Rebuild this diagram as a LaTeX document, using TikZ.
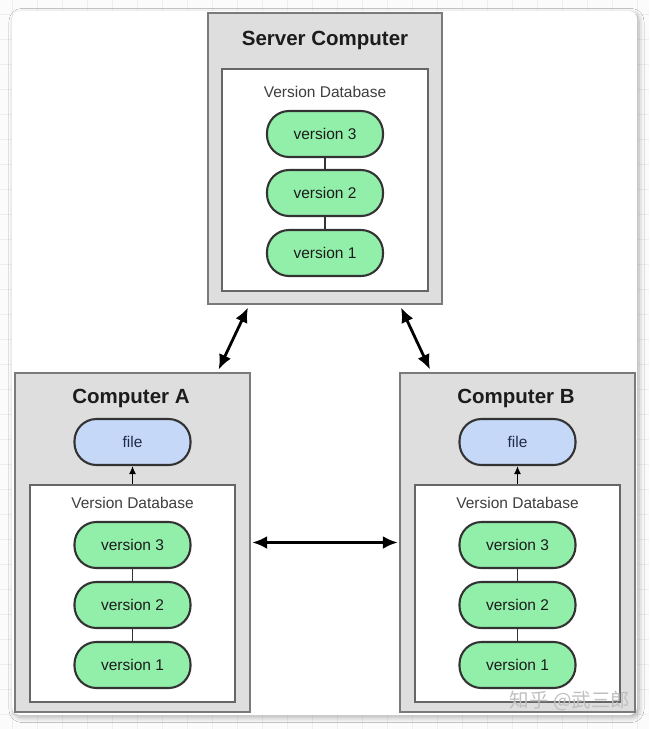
\documentclass[tikz,border=0pt]{standalone}
\usepackage{fontspec}
\setmainfont{Liberation Sans}
\newfontfamily\cjk{Noto Sans CJK SC}
\usetikzlibrary{arrows.meta,shadows.blur}
\definecolor{bggray}{HTML}{FBFBFB}
\definecolor{gridc}{HTML}{EEEEEE}
\definecolor{boxgray}{HTML}{DEDEDE}
\definecolor{boxborder}{HTML}{7A7A7A}
\definecolor{innerborder}{HTML}{666666}
\definecolor{pillgreen}{HTML}{92EFAA}
\definecolor{pillblue}{HTML}{C6D8F8}
\definecolor{pillborder}{HTML}{333333}
\definecolor{txt}{HTML}{1C1C1C}
\definecolor{filetxt}{HTML}{1F2A4A}
\tikzset{
  computerbox/.style={draw=boxborder, fill=boxgray, line width=1.4pt, inner sep=0pt},
  innerbox/.style={draw=innerborder, fill=white, line width=1.4pt, inner sep=0pt},
  versionpill/.style={draw=pillborder, fill=pillgreen, line width=2.1pt, rounded corners=22pt,
     minimum width=116pt, minimum height=46pt, inner sep=0pt, font=\fontsize{15.5}{18}\selectfont, text=txt},
  filepill/.style={versionpill, fill=pillblue, text=filetxt},
  titletext/.style={font=\fontsize{20.5}{24}\selectfont\bfseries, text=txt, inner sep=0pt},
  dbtext/.style={font=\fontsize{15.5}{18}\selectfont, text=txt!85, inner sep=0pt},
  linkline/.style={draw=pillborder, line width=1.2pt},
  smallarrow/.style={draw=black, line width=1.3pt, -{Latex[length=8pt,width=7pt]}},
  bigarrow/.style={draw=black, line width=2.8pt, {Latex[length=15pt,width=13pt]}-{Latex[length=15pt,width=13pt]}, shorten <=3pt, shorten >=3pt},
}
\begin{document}
\begin{tikzpicture}[x=1pt,y=-1pt]
\useasboundingbox (0,0) rectangle (649,729);
\fill[bggray] (0,0) rectangle (649,729);
\foreach \gx in {12.5,37.5,...,649} \draw[gridc, line width=0.8pt] (\gx,0) -- (\gx,729);
\foreach \gy in {14,39,...,729} \draw[gridc, line width=0.8pt] (0,\gy) -- (649,\gy);
\fill[white, rounded corners=8pt, blur shadow={shadow xshift=2pt, shadow yshift=-2.5pt, shadow blur steps=8, shadow blur radius=5pt, shadow opacity=30}] (12,11) rectangle (637,715);

% Server
\node[computerbox, minimum width=234pt, minimum height=291pt] (server) at (325,158.5) {};
\node[titletext] (servertitle) at (325,40.5) {Server Computer};
\node[innerbox, minimum width=206pt, minimum height=222pt] (sdb) at (325,180) {};
\node[dbtext] (sdblabel) at (325,92) {Version Database};
\node[versionpill] (s3) at (325,134) {version 3};
\node[versionpill] (s2) at (325,193) {version 2};
\node[versionpill] (s1) at (325,253) {version 1};
\draw[linkline] (s3.south) -- (s2.north);
\draw[linkline] (s2.south) -- (s1.north);

% Computer A
\node[computerbox, minimum width=235pt, minimum height=339pt] (A) at (132.5,542.5) {};
\node[titletext] (Atitle) at (131,398.5) {Computer A};
\node[filepill] (Afile) at (132.5,442) {file};
\node[innerbox, minimum width=205pt, minimum height=217pt] (Adb) at (132.5,593.5) {};
\node[dbtext] (Adblabel) at (132.5,503) {Version Database};
\node[versionpill] (a3) at (132.5,545) {version 3};
\node[versionpill] (a2) at (132.5,605) {version 2};
\node[versionpill] (a1) at (132.5,665) {version 1};
\draw[linkline] (a3.south) -- (a2.north);
\draw[linkline] (a2.south) -- (a1.north);
\draw[smallarrow] (Adb.north) -- (Afile.south);

% Computer B
\node[computerbox, minimum width=235pt, minimum height=339pt] (B) at (517.5,542.5) {};
\node[titletext] (Btitle) at (516,398.5) {Computer B};
\node[filepill] (Bfile) at (517.5,442) {file};
\node[innerbox, minimum width=205pt, minimum height=217pt] (Bdb) at (517.5,593.5) {};
\node[dbtext] (Bdblabel) at (517.5,503) {Version Database};
\node[versionpill] (b3) at (517.5,545) {version 3};
\node[versionpill] (b2) at (517.5,605) {version 2};
\node[versionpill] (b1) at (517.5,665) {version 1};
\draw[linkline] (b3.south) -- (b2.north);
\draw[linkline] (b2.south) -- (b1.north);
\draw[smallarrow] (Bdb.north) -- (Bfile.south);

% Connections
\draw[bigarrow] ([xshift=42pt]server.south west) -- ([xshift=203pt]A.north west);
\draw[bigarrow] ([xshift=-43pt]server.south east) -- ([xshift=32pt]B.north west);
\draw[bigarrow, shorten <=1.5pt, shorten >=1.5pt] (A.east) -- (B.west);

% watermark
\node[font=\cjk\fontsize{19.5}{22}\selectfont, text=black!25, inner sep=0pt] (wm) at (570,701) {知乎 @武三郎};
\end{tikzpicture}
\end{document}
